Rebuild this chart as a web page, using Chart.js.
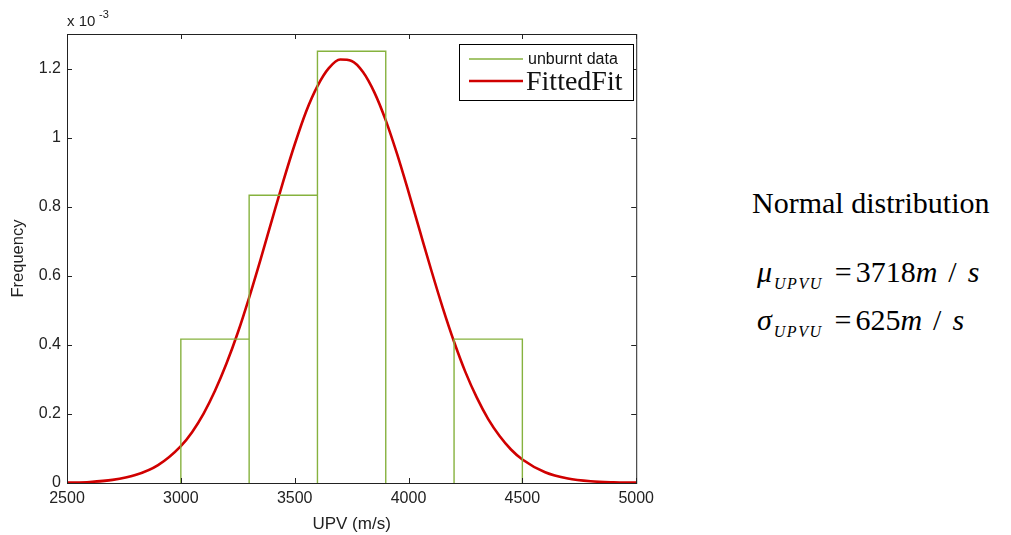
<!DOCTYPE html>
<html>
<head>
  <meta charset="utf-8" />
  <title>UPV histogram</title>
  <style>
    body { margin: 0; background: #fff; width: 1011px; height: 535px; position: relative; overflow: hidden; }
    #wrap { position: absolute; left: 0; top: 0; width: 660px; height: 535px; }
    .note { position: absolute; font-family: "Liberation Serif", "Times New Roman", serif; color: #000; white-space: nowrap; line-height: 1; }
    .note i { font-style: italic; }
    .note sub { font-size: 16px; font-style: italic; letter-spacing: 1.5px; vertical-align: -7px; margin-left: 2px; }
    .note .eq { margin-left: 12px; margin-right: 4px; }
    .note .sl { margin: 0 11px 0 11px; }
  </style>
</head>
<body>
  <div id="wrap"><canvas id="stage"></canvas></div>

  <div class="note" style="left:752px; top:188px; font-size:30px;">Normal distribution</div>
  <div class="note" style="left:757px; top:257px; font-size:30px;"><i>&mu;</i><sub>UPVU</sub><span class="eq">=</span>3718<i>m</i><span class="sl">/</span><i>s</i></div>
  <div class="note" style="left:757px; top:305px; font-size:30px;"><i>&sigma;</i><sub>UPVU</sub><span class="eq">=</span>625<i>m</i><span class="sl">/</span><i>s</i></div>

  <script src="https://cdn.jsdelivr.net/npm/chart.js@4.4.1/dist/chart.umd.min.js"></script>
  <script>
    // 値は 10^-3 単位
    const binEdges = [3000, 3300, 3600, 3900, 4200, 4500];
    const binHeights = [0.4167, 0.8333, 1.25, 0, 0.4167];

    const fitX = [2500, 2600, 2700, 2800, 2900, 3000, 3050, 3100, 3150, 3200, 3250, 3300, 3350, 3400, 3450, 3500,
                  3550, 3600, 3650, 3700, 3750, 3800, 3850, 3900, 3950, 4000, 4050, 4100, 4150, 4200, 4250, 4300,
                  4350, 4400, 4450, 4500, 4600, 4700, 4800, 4900, 5000];
    const fitY = [0.001, 0.003, 0.009, 0.023, 0.052, 0.107, 0.148, 0.201, 0.267, 0.345, 0.435, 0.537, 0.647, 0.761, 0.874, 0.980,
                  1.075, 1.149, 1.201, 1.226, 1.222, 1.190, 1.131, 1.050, 0.952, 0.843, 0.729, 0.616, 0.508, 0.409, 0.321, 0.247,
                  0.185, 0.136, 0.097, 0.068, 0.031, 0.013, 0.005, 0.002, 0.001];

    const xTicks = [2500, 3000, 3500, 4000, 4500, 5000];
    const yTicks = [0, 0.2, 0.4, 0.6, 0.8, 1, 1.2];

    const legendLabels = ['unburnt data', 'FittedFit'];
    const green = '#86b23e';
    const red = '#d00000';
    const sans = 'Arial, "Liberation Sans", sans-serif';

    // ヒストグラムの外形（底辺は軸と重なるので描かない）
    const histPts = [];
    for (let i = 0; i < binHeights.length; i++) {
      if (binHeights[i] === 0) continue;
      histPts.push({x: binEdges[i], y: 0});
      histPts.push({x: binEdges[i], y: binHeights[i]});
      histPts.push({x: binEdges[i + 1], y: binHeights[i]});
      histPts.push({x: binEdges[i + 1], y: 0});
      histPts.push({x: binEdges[i + 1], y: null});
    }
    const fitPts = fitX.map((x, i) => ({x: x, y: fitY[i]}));

    const frame = {
      id: 'frame',
      afterDraw(chart) {
        const ctx = chart.ctx;
        const a = chart.chartArea;
        const xs = chart.scales.x, ys = chart.scales.y;
        ctx.save();
        ctx.strokeStyle = '#222';
        ctx.lineWidth = 1;
        ctx.strokeRect(a.left + 0.5, a.top + 0.5, a.right - a.left, a.bottom - a.top);
        ctx.beginPath();
        xTicks.forEach(v => {
          const px = Math.round(xs.getPixelForValue(v)) + 0.5;
          ctx.moveTo(px, a.bottom); ctx.lineTo(px, a.bottom - 5);
          ctx.moveTo(px, a.top); ctx.lineTo(px, a.top + 5);
        });
        yTicks.forEach(v => {
          const py = Math.round(ys.getPixelForValue(v)) + 0.5;
          ctx.moveTo(a.left, py); ctx.lineTo(a.left + 5, py);
          ctx.moveTo(a.right, py); ctx.lineTo(a.right - 5, py);
        });
        ctx.stroke();

        // 指数
        ctx.fillStyle = '#222';
        ctx.textBaseline = 'alphabetic';
        ctx.font = '15px ' + sans;
        ctx.fillText('x 10', a.left, a.top - 8);
        ctx.font = '11px ' + sans;
        ctx.fillText('-3', a.left + 32, a.top - 16);

        // 凡例
        const lx = 459, ly = 44, lw = 174, lh = 56;
        ctx.fillStyle = '#fff';
        ctx.fillRect(lx, ly, lw, lh);
        ctx.strokeStyle = '#000';
        ctx.strokeRect(lx + 0.5, ly + 0.5, lw, lh);
        const ds = chart.data.datasets;
        ctx.lineWidth = ds[0].borderWidth;
        ctx.strokeStyle = ds[0].borderColor;
        ctx.beginPath(); ctx.moveTo(469, 59); ctx.lineTo(523, 59); ctx.stroke();
        ctx.lineWidth = ds[1].borderWidth;
        ctx.strokeStyle = ds[1].borderColor;
        ctx.beginPath(); ctx.moveTo(469, 81); ctx.lineTo(523, 81); ctx.stroke();
        ctx.fillStyle = '#111';
        ctx.textBaseline = 'middle';
        ctx.font = '16px ' + sans;
        ctx.fillText(ds[0].label, 528, 60);
        ctx.font = '28px "Liberation Serif", "Times New Roman", serif';
        ctx.fillText(ds[1].label, 526, 83);
        ctx.restore();
      }
    };

    new Chart(document.getElementById('stage'), {
      type: 'scatter',
      data: {
        datasets: [{
          label: legendLabels[0],
          data: histPts,
          showLine: true,
          spanGaps: false,
          borderColor: green,
          borderWidth: 1.4,
          pointRadius: 0,
          tension: 0,
        }, {
          label: legendLabels[1],
          data: fitPts,
          showLine: true,
          borderColor: red,
          borderWidth: 2.6,
          pointRadius: 0,
          cubicInterpolationMode: 'monotone',
        }]
      },
      options: {
        responsive: true,
        maintainAspectRatio: false,
        animation: false,
        layout: { padding: { left: 0, top: 34, right: 23, bottom: 0 } },
        plugins: {
          legend: { display: false },
          tooltip: { enabled: false },
        },
        scales: {
          x: {
            type: 'linear',
            min: 2500, max: 5000,
            afterBuildTicks: s => { s.ticks = xTicks.map(v => ({value: v})); },
            afterFit: s => { s.height = 52; },
            grid: { display: false, drawTicks: false },
            border: { display: false },
            ticks: { padding: 6, color: '#222', font: { family: sans, size: 16 }, maxRotation: 0,
                     callback: v => String(v) },
            title: { display: true, text: 'UPV (m/s)', color: '#222', padding: { top: 5, bottom: 0 },
                     font: { family: sans, size: 17 } },
          },
          y: {
            min: 0, max: 1.3,
            afterBuildTicks: s => { s.ticks = yTicks.map(v => ({value: v})); },
            afterFit: s => { s.width = 67; },
            grid: { display: false, drawTicks: false },
            border: { display: false },
            ticks: { padding: 6, color: '#222', font: { family: sans, size: 16 },
                     callback: v => String(v) },
            title: { display: true, text: 'Frequency', color: '#222', padding: { top: 9, bottom: 0 },
                     font: { family: sans, size: 16.5 } },
          }
        }
      },
      plugins: [frame]
    });
  </script>
</body>
</html>
